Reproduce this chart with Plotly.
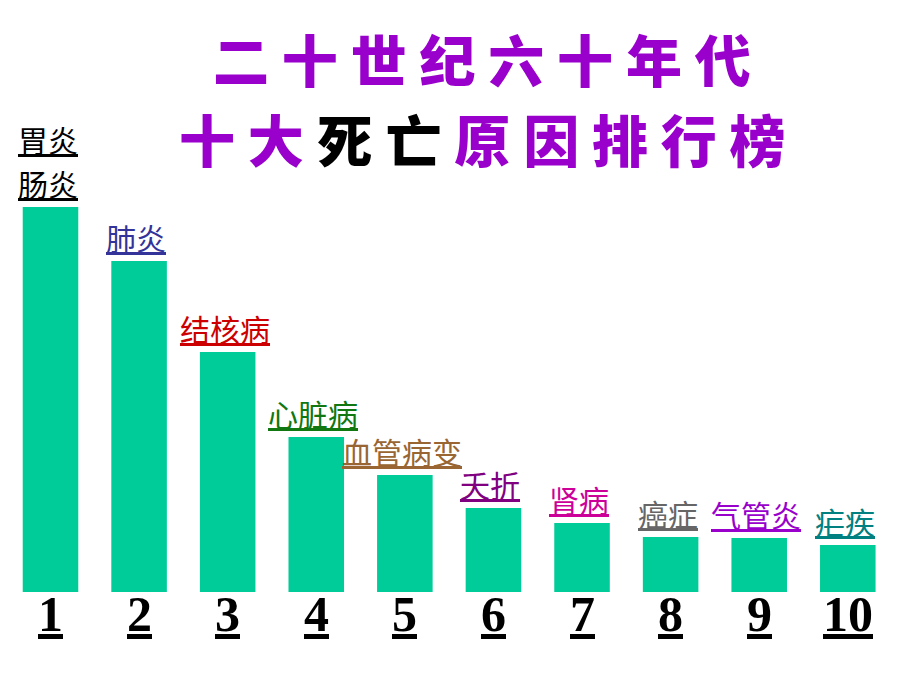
import plotly.graph_objects as go

ranks = [1, 2, 3, 4, 5, 6, 7, 8, 9, 10]
causes = ["肠炎", "肺炎", "结核病", "心脏病", "血管病变", "夭折", "肾病", "癌症", "气管炎", "疟疾"]
extra_line = {1: "胃炎"}
values = [385, 331, 240, 155, 117, 84, 69, 55, 54, 47]
label_colors = ["#000000", "#333399", "#CC0000", "#117711", "#996633",
                "#800080", "#CC0099", "#666666", "#9900CC", "#008080"]
title_line1 = "二十世纪六十年代"
title_line2_a = "十大"
title_line2_b = "死亡"
title_line2_c = "原因排行榜"

fig = go.Figure()
fig.add_trace(go.Bar(
    x=ranks, y=values, width=0.627,
    marker=dict(color="#00CC99", line=dict(width=0)),
    hoverinfo="skip",
))

annotations = []
for r, c, v, col in zip(ranks, causes, values, label_colors):
    annotations.append(dict(
        x=r, y=v, xref="x", yref="y", text=c, showarrow=False,
        xanchor="center", yanchor="bottom", xshift=-3, yshift=0,
        font=dict(family="Noto Sans CJK SC", size=30, color=col, lineposition="under"),
    ))
    if r in extra_line:
        annotations.append(dict(
            x=r, y=v, xref="x", yref="y", text=extra_line[r], showarrow=False,
            xanchor="center", yanchor="bottom", xshift=-3, yshift=44,
            font=dict(family="Noto Sans CJK SC", size=30, color=col, lineposition="under"),
        ))
    annotations.append(dict(
        x=r, y=0, xref="x", yref="y", text=str(r), showarrow=False,
        xanchor="center", yanchor="top", yshift=8,
        font=dict(family="Liberation Serif", size=50, color="#000000",
                  weight="bold", lineposition="under"),
    ))

def spaced(s):
    return " ".join(s)

annotations.append(dict(
    x=0.524, y=0.916, xref="paper", yref="paper", showarrow=False,
    xanchor="center", yanchor="middle", text=spaced(title_line1),
    font=dict(family="Noto Sans CJK SC", size=56, color="#9900CC", weight=900),
))
annotations.append(dict(
    x=0.524, y=0.800, xref="paper", yref="paper", showarrow=False,
    xanchor="center", yanchor="middle",
    text=spaced(title_line2_a) + " <span style='color:#000000'>" + spaced(title_line2_b)
         + "</span> " + spaced(title_line2_c),
    font=dict(family="Noto Sans CJK SC", size=56, color="#9900CC", weight=900),
))

fig.update_layout(
    width=920, height=690,
    margin=dict(l=0, r=0, t=0, b=0),
    paper_bgcolor="#FFFFFF", plot_bgcolor="#FFFFFF",
    showlegend=False,
    xaxis=dict(range=[0.43, 10.815], visible=False, fixedrange=True),
    yaxis=dict(range=[-98, 592], visible=False, fixedrange=True),
    annotations=annotations,
)

fig.write_html("out.html")
